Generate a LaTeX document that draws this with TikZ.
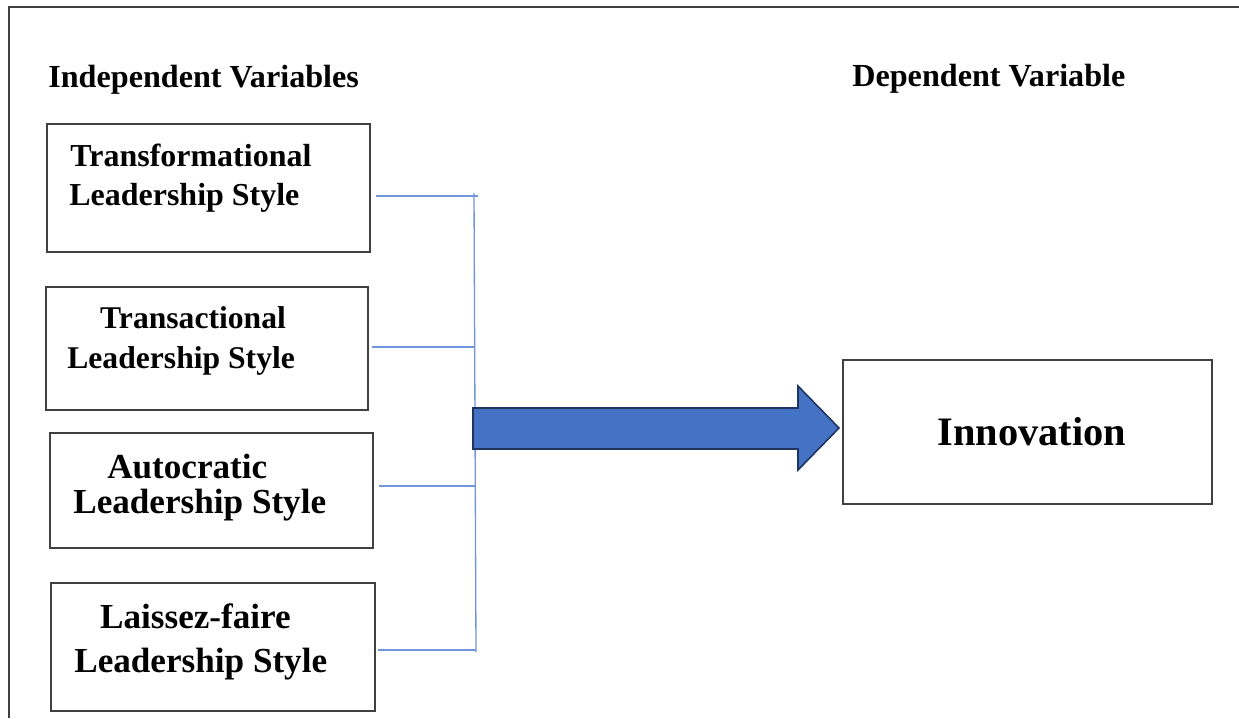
\documentclass[tikz,border=0pt]{standalone}
\usepackage{fontspec}
\setmainfont{Liberation Serif}
\usetikzlibrary{positioning}
\definecolor{boxgray}{HTML}{404040}
\definecolor{linkblue}{HTML}{6F96DC}
\definecolor{arrowfill}{HTML}{4472C4}
\definecolor{arrowedge}{HTML}{1F3560}

\begin{document}
\begin{tikzpicture}[
    x=0.02cm, y=-0.02cm,
    box/.style={draw=boxgray, line width=0.8pt, inner sep=0pt},
    boxtext/.style n args={2}{font=\fontsize{#1}{#2}\selectfont\bfseries, align=left, anchor=base west, inner sep=0pt},
    heading/.style={font=\fontsize{18.3}{22}\selectfont\bfseries, anchor=base west, inner sep=0pt},
    link/.style={draw=linkblue, line width=0.75pt},
    bigarrow/.style={fill=arrowfill, draw=arrowedge, line width=0.9pt, line join=miter}
]
    \useasboundingbox (0,0) rectangle (1239,718);
    % Outer frame (only top and left visible)
    \draw[boxgray, line width=0.7pt] (9,718) -- (9,7) -- (1239,7);

    % Headings
    \node[heading] (indep) at (48,87) {Independent Variables};
    \node[heading] (dep) at (852,86) {Dependent Variable};

    % Independent variables
    \node[box, minimum width=6.46cm, minimum height=2.56cm] (trf) at (208.5,188) {};
    \node[box, minimum width=6.44cm, minimum height=2.46cm] (trs) at (207,348.5) {};
    \node[box, minimum width=6.46cm, minimum height=2.30cm] (aut) at (211.5,490.5) {};
    \node[box, minimum width=6.48cm, minimum height=2.56cm] (lai) at (213,647) {};
    \node[boxtext={18.2}{22.1}] (trf_t) at (69,205) {\hspace*{0.6pt}Transformational\\Leadership Style};
    \node[boxtext={18}{22.7}] (trs_t) at (67,368) {\hspace*{18.7pt}Transactional\\Leadership Style};
    \node[boxtext={20}{19.8}] (aut_t) at (73,513) {\hspace*{19.3pt}Autocratic\\Leadership Style};
    \node[boxtext={20}{25}] (lai_t) at (74,672) {\hspace*{14.7pt}Laissez-faire\\Leadership Style};

    % Dependent variable
    \node[box, minimum width=7.38cm, minimum height=2.88cm] (inno) at (1027.5,432) {};
    \node[font=\fontsize{23}{27}\selectfont\bfseries, anchor=base, inner sep=0pt] (inno_t) at (1032,445) {Innovation};

    % Bracket joining the four boxes
    \coordinate (j1) at (474,196);
    \coordinate (j2) at (474,347);
    \coordinate (j3) at (475,486);
    \coordinate (j4) at (476,650);
    \draw[link, shorten <=1mm] (trf.east |- j1) -- (j1) -- ++(4,0);
    \draw[link, shorten <=0.6mm] (trs.east |- j2) -- (j2);
    \draw[link, shorten <=1mm] (aut.east |- j3) -- (j3);
    \draw[link, shorten <=0.4mm] (lai.east |- j4) -- (j4);
    \draw[link] ([yshift=0.06cm]j1) -- ([yshift=-0.04cm]j4);

    % Block arrow to Innovation
    \draw[bigarrow] (473,408) -- (798,408) -- (798,386) -- (839,428)
        -- (798,470) -- (798,449) -- (473,449) -- cycle;
\end{tikzpicture}
\end{document}
